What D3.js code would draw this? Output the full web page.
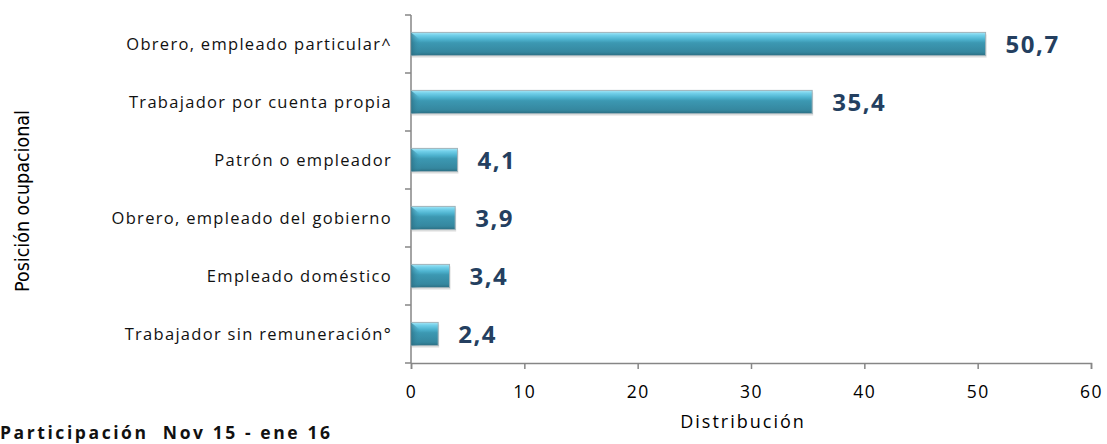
<!DOCTYPE html>
<html>
<head>
<meta charset="utf-8">
<script src="https://cdn.jsdelivr.net/npm/d3@7"></script>
<style>
body { margin: 0; background: #fff; }
svg text { font-family: "Open Sans", "Noto Sans", sans-serif; }
</style>
</head>
<body>
<div id="graph1"></div>
<script>
// data
var categories = [
    "Obrero, empleado particular^",
    "Trabajador por cuenta propia",
    "Patrón o empleador",
    "Obrero, empleado del gobierno",
    "Empleado doméstico",
    "Trabajador sin remuneración°"
];
var values = [50.7, 35.4, 4.1, 3.9, 3.4, 2.4];
var xTicks = [0, 10, 20, 30, 40, 50, 60];

var width = 1107, height = 444;
var plotLeft = 411, plotRight = 1091, plotTop = 15, plotBottom = 363;

var xScale = d3.scaleLinear()
    .domain([0, 60])
    .range([plotLeft, plotRight]);

var yScale = d3.scaleBand()
    .domain(categories)
    .range([plotTop, plotBottom])
    .paddingInner(0.6)
    .paddingOuter(0.3);

var svg = d3.select("#graph1").append("svg")
    .attr("width", width)
    .attr("height", height);

var defs = svg.append("defs");
var grad = defs.append("linearGradient")
    .attr("id", "barGrad")
    .attr("x1", 0).attr("y1", 0).attr("x2", 0).attr("y2", 1);
grad.append("stop").attr("offset", "0%").attr("stop-color", "#a6e6f6");
grad.append("stop").attr("offset", "12%").attr("stop-color", "#72d0ea");
grad.append("stop").attr("offset", "30%").attr("stop-color", "#4eb3cf");
grad.append("stop").attr("offset", "45%").attr("stop-color", "#3c98b2");
grad.append("stop").attr("offset", "85%").attr("stop-color", "#35879f");
grad.append("stop").attr("offset", "100%").attr("stop-color", "#2b6e82");

var endGrad = defs.append("linearGradient")
    .attr("id", "endGrad")
    .attr("x1", 0).attr("y1", 0).attr("x2", 1).attr("y2", 0);
endGrad.append("stop").attr("offset", "0%").attr("stop-color", "#2a6a7e");
endGrad.append("stop").attr("offset", "100%").attr("stop-color", "#3e9fbb").attr("stop-opacity", 0);

// x axis
var xAxis = svg.append("g")
    .attr("transform", "translate(0," + plotBottom + ")")
    .call(d3.axisBottom(xScale).tickValues(xTicks).tickSize(6).tickPadding(17));
xAxis.select(".domain").attr("stroke", "#868686").attr("stroke-width", 1.5);
xAxis.selectAll(".tick line").attr("stroke", "#868686").attr("stroke-width", 1.5);
xAxis.selectAll(".tick text")
    .style("font-size", "17.5px")
    .style("letter-spacing", "1.5px")
    .attr("fill", "#000");

// y axis line and ticks at band boundaries
svg.append("line")
    .attr("x1", plotLeft).attr("x2", plotLeft)
    .attr("y1", plotTop).attr("y2", plotBottom)
    .attr("stroke", "#868686").attr("stroke-width", 1.5);

svg.selectAll(".ytick")
    .data(d3.range(categories.length + 1))
    .enter().append("line")
    .attr("class", "ytick")
    .attr("x1", plotLeft - 6).attr("x2", plotLeft)
    .attr("y1", function(i) { return plotTop + i * (plotBottom - plotTop) / categories.length; })
    .attr("y2", function(i) { return plotTop + i * (plotBottom - plotTop) / categories.length; })
    .attr("stroke", "#868686").attr("stroke-width", 1.5);

// category labels
svg.selectAll(".cat")
    .data(categories)
    .enter().append("text")
    .attr("class", "cat")
    .attr("x", 392)
    .attr("y", function(d) { return yScale(d) + yScale.bandwidth() / 2; })
    .attr("dy", "0.35em")
    .attr("text-anchor", "end")
    .style("font-size", "16.5px")
    .style("letter-spacing", "1.3px")
    .attr("fill", "#111")
    .text(function(d) { return d; });

// bars
var bars = svg.selectAll(".bar")
    .data(values)
    .enter().append("g")
    .attr("class", "bar");

bars.append("rect")
    .attr("x", xScale(0) + 1)
    .attr("y", function(d, i) { return yScale(categories[i]) + 2; })
    .attr("width", function(d) { return xScale(d) - xScale(0); })
    .attr("height", yScale.bandwidth())
    .attr("fill", "#000")
    .attr("opacity", 0.12);

bars.append("rect")
    .attr("x", xScale(0))
    .attr("y", function(d, i) { return yScale(categories[i]); })
    .attr("width", function(d) { return xScale(d) - xScale(0); })
    .attr("height", yScale.bandwidth())
    .attr("fill", "url(#barGrad)")
    .attr("stroke", "#9fb3ba")
    .attr("stroke-width", 1);

bars.append("path")
    .attr("d", function(d, i) {
        var y0 = yScale(categories[i]), h = yScale.bandwidth(), x0 = xScale(0);
        return "M" + x0 + "," + y0 + "L" + (x0 + 10) + "," + (y0 + h * 0.35) +
            "L" + (x0 + 10) + "," + (y0 + h) + "L" + x0 + "," + (y0 + h) + "Z";
    })
    .attr("fill", "url(#endGrad)")
    .attr("opacity", 0.7);

// value labels
svg.selectAll(".val")
    .data(values)
    .enter().append("text")
    .attr("class", "val")
    .attr("x", function(d) { return xScale(d) + 20; })
    .attr("y", function(d, i) { return yScale(categories[i]) + yScale.bandwidth() / 2 + 1; })
    .attr("dy", "0.35em")
    .style("font-size", "24px")
    .style("font-weight", "bold")
    .style("letter-spacing", "1.5px")
    .attr("fill", "#243f60")
    .text(function(d) { return d3.format(".1f")(d).replace(".", ","); });

// axis titles
svg.append("text")
    .attr("x", 743).attr("y", 428)
    .attr("text-anchor", "middle")
    .style("font-size", "18px")
    .style("letter-spacing", "2px")
    .attr("fill", "#000")
    .text("Distribución");

svg.append("text")
    .attr("transform", "translate(29,201) rotate(-90)")
    .attr("text-anchor", "middle")
    .style("font-family", "'Liberation Sans Narrow', 'DejaVu Sans Condensed', sans-serif")
    .style("font-size", "19.5px")
    .attr("fill", "#000")
    .text("Posición ocupacional");

svg.append("text")
    .attr("x", 0).attr("y", 439)
    .attr("textLength", 330)
    .attr("lengthAdjust", "spacing")
    .style("font-size", "17.5px")
    .style("font-weight", "bold")
    .style("white-space", "pre")
    .attr("fill", "#111")
    .text("Participación  Nov 15 - ene 16");
</script>
</body>
</html>
